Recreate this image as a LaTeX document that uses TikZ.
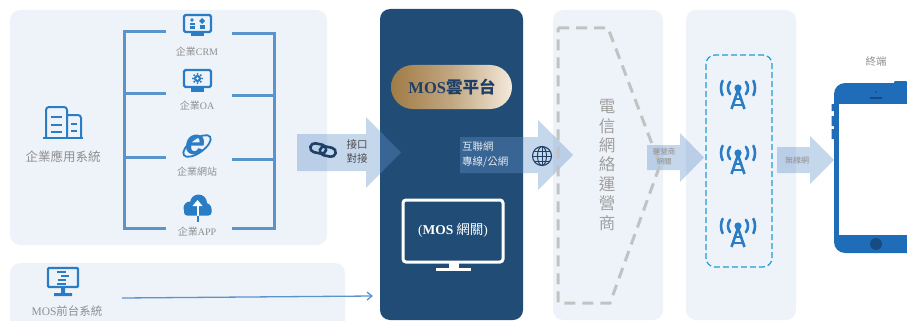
\documentclass[tikz,border=0pt]{standalone}
\usepackage{fontspec}
\setmainfont{Noto Sans CJK TC}
\newfontfamily\lat{Liberation Serif}
\newfontfamily\latsans{Liberation Sans}
\usetikzlibrary{arrows.meta,calc}
\definecolor{panel}{HTML}{EEF3FA}
\definecolor{navy}{HTML}{214C76}
\definecolor{ink}{HTML}{1F3F66}
\definecolor{iconblue}{HTML}{2A7DC4}
\definecolor{linkblue}{HTML}{5B93CC}
\definecolor{arrowfill}{HTML}{6392C9}
\definecolor{greytext}{HTML}{8E8E8E}
\definecolor{dashgrey}{HTML}{C2C2C2}
\definecolor{phoneblue}{HTML}{1F6DB8}
\definecolor{goldA}{HTML}{A07B45}
\definecolor{goldB}{HTML}{F4E9DB}
\tikzset{
  panelbox/.style={fill=panel, rounded corners=10pt},
  flowarrow/.style={fill=arrowfill, fill opacity=0.37, draw=none},
  bracket/.style={draw=linkblue, line width=3pt},
  lbl/.style={text=greytext, font=\fontsize{10}{12}\selectfont, inner sep=0pt},
  icon/.style={draw=iconblue, line width=2.2pt},
  antenna/.pic={
    \fill[iconblue] (0,0) circle (3.6);
    \draw[iconblue, line width=2.6pt, line join=round] (-6.5,21) -- (0,2) -- (6.5,21);
    \draw[iconblue, line width=2pt] (-3.2,11) -- (3.2,11) (-5,16.5) -- (5,16.5);
    \draw[iconblue, line width=2.6pt, line cap=round]
      (142:10pt) arc[start angle=142, end angle=218, radius=10pt]
      (155:17pt) arc[start angle=155, end angle=205, radius=17pt]
      (38:10pt) arc[start angle=38, end angle=-38, radius=10pt]
      (25:17pt) arc[start angle=25, end angle=-25, radius=17pt];
  }
}
\begin{document}
\begin{tikzpicture}[x=1pt, y=-1pt]
\useasboundingbox (0,0) rectangle (907,321);

% background panels
\fill[panelbox] (10,10) rectangle (327,245);
\fill[panelbox] (10,263) rectangle (345,335);
\fill[panelbox] (553,10) rectangle (663,320);
\fill[panelbox] (686,10) rectangle (796,320);
\fill[navy, rounded corners=10pt] (380,9) rectangle (523,320);

% enterprise application system: building icon
\node (bldg) at (63,124) {};
\begin{scope}[iconblue, line width=2pt, line join=round]
  \draw (46,138) -- (46,110) arc[start angle=180, end angle=90, radius=3pt] -- (64,107)
        arc[start angle=90, end angle=0, radius=3pt] -- (67,138);
  \draw (67,115) -- (78,115) arc[start angle=90, end angle=0, radius=3pt] -- (81,138);
  \draw (43,138) -- (83,138);
  \draw (51,117) -- (62,117) (51,125) -- (62,125) (51,132) -- (62,132);
  \draw (71,124) -- (77,124) (71,131) -- (77,131);
\end{scope}
\node[text=greytext, font=\fontsize{12.5}{14}\selectfont, inner sep=0pt] (entsys) at (63,157) {企業應用系統};

% brackets joining the applications
\draw[bracket] (166,32) -- (124,32) -- (124,228) -- (166,228);
\draw[bracket] (124,93) -- (166,93) (124,157) -- (166,157);
\draw[bracket] (232,34) -- (274,34) -- (274,228) -- (232,228);
\draw[bracket] (232,95) -- (274,95) (232,159) -- (274,159);

% CRM monitor
\node (crm) at (197,24) {};
\draw[icon, rounded corners=1.5pt] (184,15) rectangle (211,32);
\fill[iconblue] (191,33) rectangle (204,36.5);
\fill[iconblue] (192,20) circle (1.8);
\fill[iconblue] (189.5,23) rectangle (194.5,25.5);
\fill[iconblue] (202,18) -- (205,21) -- (202,24) -- (199,21) -- cycle;
\fill[iconblue] (189.5,26.5) rectangle (194.5,29.5);
\fill[iconblue] (199.5,25) rectangle (204.5,29.5);
\node[lbl] (crmt) at (197,52) {企業{\lat CRM}};

% OA monitor with gear
\node (oa) at (197,80) {};
\draw[icon, rounded corners=1.5pt] (184,70) rectangle (211,87);
\fill[iconblue] (191,88) rectangle (204,91.5);
\fill[iconblue] (197.5,78.5) circle (3.6);
\foreach \a in {0,45,...,315} \fill[iconblue] ($(197.5,78.5)+(\a:4.6pt)$) circle (1.1);
\fill[panel] (197.5,78.5) circle (1.4);
\node[lbl] (oat) at (197,106) {企業{\lat OA}};

% website icon
\draw[iconblue, line width=1.8pt, rotate around={35:(197,146)}] (197,146) ellipse [x radius=16pt, y radius=7pt];
\fill[panel, rotate around={35:(197,146)}] (189,140) rectangle (205,142.5);
\node[text=iconblue, font=\latsans\bfseries\itshape\fontsize{36}{36}\selectfont, inner sep=0pt] (web) at (196,145) {e};
\node[lbl] (webt) at (197,172) {企業網站};

% app cloud icon
\node (app) at (197,208) {};
\fill[iconblue] (190,208) circle (6.5) (198.5,203) circle (8.5) (205.5,209) circle (6) ;
\fill[iconblue, rounded corners=3pt] (184,207) rectangle (211.5,215.5);
\draw[white, line width=2pt] (197.5,215.5) -- (197.5,204);
\fill[white] (192.5,206) -- (197.5,200) -- (202.5,206) -- cycle;
\draw[iconblue, line width=2pt] (197.5,215.5) -- (197.5,222);
\node[lbl] (appt) at (197,232) {企業{\lat APP}};

% front-desk system
\draw[icon, rounded corners=1pt] (48,268) rectangle (78,287);
\fill[iconblue] (61,288) rectangle (65,293) (54,293) rectangle (72,296);
\draw[iconblue, line width=1.6pt] (57,272) -- (66,272) (61,276) -- (69,276) (58,280) -- (66,280) (57,284) -- (66,284);
\node[text=greytext, font=\fontsize{11.5}{13}\selectfont, inner sep=0pt] (front) at (67,311) {{\lat MOS}前台系統};
\coordinate (frontout) at (122,298);
\coordinate (gatewayin) at (373,296);
\draw[linkblue, line width=1.3pt, -{Straight Barb[length=5pt, width=8pt]}] (frontout) -- (gatewayin);

% MOS cloud platform
\shade[left color=goldA, right color=goldB, middle color=goldB!40!goldA, rounded corners=22pt]
  (391,65) rectangle (512,109);
\node[text=ink, font=\bfseries\fontsize{16.5}{18}\selectfont, inner sep=0pt] (cloud) at (452,87) {{\lat\bfseries MOS}雲平台};

% gateway monitor
\draw[white, line width=3pt, rounded corners=3pt] (403,200) rectangle (503,262);
\fill[white] (449,263) rectangle (459,268);
\draw[white, line width=3pt] (436,269) -- (471,269);
\node[text=white, font=\fontsize{13.5}{15}\selectfont, inner sep=0pt] (gw) at (453,230) {{\lat(\bfseries MOS} 網關{\lat )}};

% flow arrows
\fill[flowarrow] (297,134) -- (366,134) -- (366,117) -- (401,152.5) -- (366,188) -- (366,171) -- (297,171) -- cycle;
\fill[flowarrow] (460,137) -- (538,137) -- (538,120) -- (573,155) -- (538,190) -- (538,173) -- (460,173) -- cycle;
\fill[flowarrow] (647,145) -- (680,145) -- (680,133) -- (704,157.5) -- (680,182) -- (680,170) -- (647,170) -- cycle;
\fill[flowarrow] (777,147) -- (810,147) -- (810,136) -- (834,160) -- (810,184) -- (810,173) -- (777,173) -- cycle;

% link icon
\begin{scope}[rotate around={-12:(323,150)}]
  \draw[ink, line width=2.6pt, rounded corners=4.5pt] (310,145) rectangle (326,154);
  \draw[ink, line width=2.6pt, rounded corners=4.5pt] (320,146) rectangle (336,155);
\end{scope}
\node[text=black!70, font=\fontsize{10.5}{14}\selectfont, align=left, inner sep=0pt] (iface) at (357,151) {接口\\對接};

% internet link text and globe
\node[text=white!88!navy, font=\fontsize{10.5}{15}\selectfont, align=left, anchor=west, inner sep=0pt] (net) at (462,155) {互聯網\\專線/公網};
\node[circle, draw=ink, line width=1.1pt, minimum size=19pt, inner sep=0pt] (globe) at (542,156) {};
\draw[ink, line width=1pt] (542,146.5) -- (542,165.5) (532.5,156) -- (551.5,156)
  (534,151) -- (550,151) (534,161) -- (550,161);
\draw[ink, line width=1pt] (542,156) ellipse [x radius=4.5pt, y radius=9.5pt];

% telecom operator
\draw[dashgrey, line width=3pt, dash pattern=on 11pt off 7pt] (558,28) -- (608,28) -- (660,165) -- (610,303) -- (558,303) -- cycle;
\node[text=greytext!85, font=\fontsize{16.5}{19.4}\selectfont, align=center, inner sep=0pt] (telecom) at (607,165) {電\\信\\網\\絡\\運\\營\\商};
\node[text=greytext, font=\fontsize{7.5}{10}\selectfont, align=center, inner sep=0pt] (opgw) at (664,157) {運營商\\網關};

% base stations
\draw[iconblue!75!cyan, line width=1.2pt, dash pattern=on 6pt off 3pt, rounded corners=9pt] (706,55) rectangle (772,267);
\pic at (738,88) {antenna};
\pic at (738,153) {antenna};
\pic at (738,226) {antenna};
\node[text=greytext, font=\fontsize{8}{10}\selectfont, inner sep=0pt] (wifi) at (797,160) {無線網};

% terminal
\node[text=greytext, font=\fontsize{10.5}{12}\selectfont, inner sep=0pt] (term) at (876,62) {終端};
\fill[phoneblue, rounded corners=1pt] (894,81) rectangle (907,85);
\fill[phoneblue] (831.5,104) rectangle (835,111) (831.5,116) rectangle (835,126) (831.5,129) rectangle (835,139);
\fill[phoneblue, rounded corners=11pt] (834,83) rectangle (925,253);
\fill[white] (838.5,104) rectangle (925,235);
\fill[phoneblue!70!black] (876,244) circle (6);
\draw[phoneblue!70!black, line width=1.5pt] (870,98) -- (882,98);
\fill[phoneblue!70!black] (876,92) circle (1);
\end{tikzpicture}
\end{document}
